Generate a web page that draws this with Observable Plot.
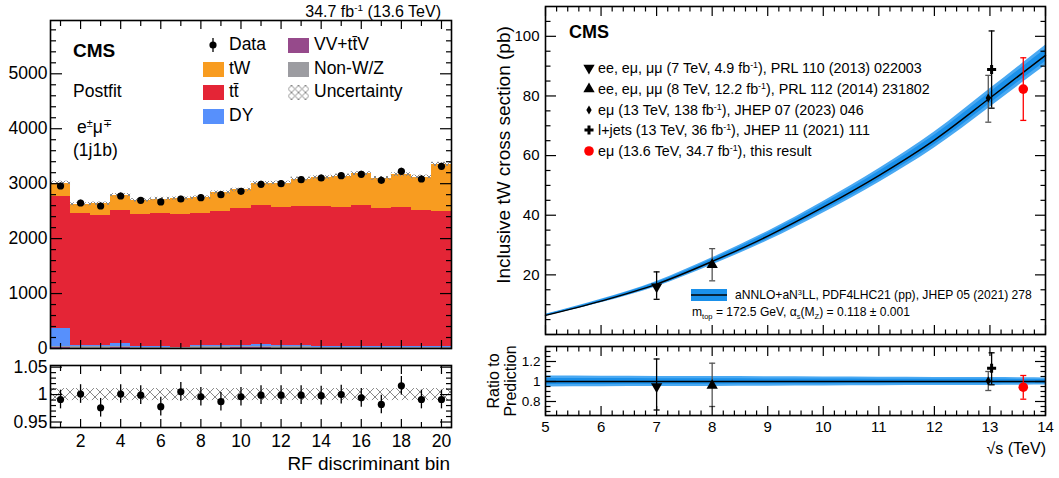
<!DOCTYPE html>
<html><head><meta charset="utf-8">
<script src="https://cdn.jsdelivr.net/npm/d3@7"></script>
<script src="https://cdn.jsdelivr.net/npm/@observablehq/plot@0.6"></script>
<style>
html,body{margin:0;padding:0;background:#fff;}
#root{position:relative;width:1059px;height:478px;overflow:hidden;background:#fff;font-family:"Liberation Sans",Arial,Helvetica,sans-serif;color:#000;}
.lbl{position:absolute;white-space:nowrap;line-height:1;}
.lbl sup{font-size:62%;vertical-align:0;position:relative;top:-0.6em;}
.lbl sub{font-size:62%;vertical-align:0;position:relative;top:0.35em;}
.holder{position:absolute;}
.holder svg{display:block;max-width:none;background:transparent;}
</style></head><body><div id="root"></div>
<script>
// ================= LEFT PANEL DATA (RF discriminant bins) =================
const bins      = [1,2,3,4,5,6,7,8,9,10,11,12,13,14,15,16,17,18,19,20];
const dataCount = [2958,2648,2594,2776,2697,2667,2721,2745,2800,2861,2988,3000,3073,3103,3145,3170,3061,3224,3085,3315];
const dataErr   = [54,51,51,53,52,52,52,52,53,53,55,55,55,56,56,56,55,57,56,58];
const tWYield   = [242,169,212,273,255,261,291,290,339,340,412,448,503,527,569,588,545,594,606,855];
const ttbarYield= [2406,2395,2364,2424,2407,2425,2412,2407,2442,2485,2521,2516,2527,2540,2540,2552,2516,2534,2485,2467];
const dyYield   = [329,29,29,56,9,9,5,19,24,28,38,19,24,16,7,16,12,12,9,9];
const nonWZYield= [25,22,22,25,18,18,12,20,22,22,25,20,22,18,15,18,16,16,14,14];
const vvYield   = [10,9,9,10,8,8,7,9,9,10,10,9,9,8,8,8,8,8,7,7];
const relUnc    = [0.011,0.011,0.011,0.011,0.011,0.011,0.011,0.011,0.011,0.011,0.011,0.011,0.011,0.011,0.011,0.011,0.011,0.011,0.011,0.011];
const ratioVal  = [0.991,1.001,0.976,1.001,0.999,0.978,1.005,0.996,0.987,0.996,0.999,0.999,0.999,0.998,1.000,0.994,0.982,1.016,0.991,0.991];
const ratioErr  = [0.017,0.017,0.017,0.017,0.017,0.017,0.017,0.017,0.017,0.017,0.017,0.017,0.017,0.017,0.017,0.017,0.017,0.017,0.017,0.017];
const procNames = ["VV+tt̄V","Non-W/Z","DY","tt̄","tW"];
const procColors= ["#964a8b","#9c9ca1","#5790fc","#e42536","#f89c20"];
const leftYTicks = [0,1000,2000,3000,4000,5000];
const leftRatioYTicks = [0.95,1,1.05];
const leftXTickLabels = [2,4,6,8,10,12,14,16,18,20];

// ================= RIGHT PANEL DATA (tW cross section vs sqrt(s)) =================
const thE    = [5,6,7,8,9,10,11,12,13,13.6,14];
const thXS   = [6.4,11.2,16.9,24.5,33.0,42.7,53.3,65.2,79.3,87.9,93.6];
const thUnc  = [0.055,0.053,0.051,0.049,0.047,0.045,0.043,0.041,0.039,0.037,0.036];
const mE     = [7,8,12.97,13.03,13.6];
const mXS    = [16.0,23.4,79.3,88.9,82.3];
const mLo    = [11.8,18.0,71.2,75.9,71.8];
const mHi    = [21.0,28.8,86.9,101.8,92.8];
const mRatio = [0.95,0.96,1.007,1.133,0.943];
const mRLo   = [0.715,0.75,0.91,0.967,0.823];
const mRHi   = [1.225,1.183,1.10,1.287,1.06];
const mSymbol= ["triangleDown","triangle","diamond","cross","circle"];
const mColor = ["#000","#000","#000","#000","#ff0000"];
const mErrColor = ["#000","#555","#555","#000","#ff0000"];
const rightYTicks = [20,40,60,80,100];
const rightRatioYTicks = [0.8,1,1.2];
const rightXTicks = [5,6,7,8,9,10,11,12,13,14];

// ================= helpers =================
const FONT = '"Liberation Sans", Arial, Helvetica, sans-serif';
const root = document.getElementById("root");
function mount(svg, left, top) {
  const d = document.createElement("div");
  d.className = "holder"; d.style.left = left + "px"; d.style.top = top + "px";
  d.appendChild(svg); root.appendChild(d);
}
function label(html, x, y, {size = 16, anchor = "start", weight = "normal", rotate = 0, color = "#000"} = {}) {
  const d = document.createElement("div");
  d.className = "lbl"; d.innerHTML = html;
  d.style.left = x + "px"; d.style.top = y + "px";
  d.style.fontSize = size + "px"; d.style.fontWeight = weight; d.style.color = color;
  const tx = anchor === "start" ? "0" : anchor === "end" ? "-100%" : "-50%";
  d.style.transform = `translate(${tx},-50%)` + (rotate ? ` rotate(${rotate}deg)` : "");
  root.appendChild(d);
  return d;
}
function mini(x, y, w, h, inner) {
  const d = document.createElement("div"); d.className = "holder";
  d.style.left = (x - w / 2) + "px"; d.style.top = (y - h / 2) + "px";
  d.innerHTML = `<svg width="${w}" height="${h}" viewBox="${-w/2} ${-h/2} ${w} ${h}" overflow="visible">${inner}</svg>`;
  root.appendChild(d);
}
function addHatch(svg, id, size, color) {
  const defs = d3.select(svg).insert("defs", ":first-child");
  const p = defs.append("pattern").attr("id", id).attr("patternUnits", "userSpaceOnUse")
    .attr("width", size).attr("height", size);
  p.append("path").attr("d", `M0,0L${size},${size}M${size},0L0,${size}`)
    .attr("stroke", color).attr("stroke-width", 1).attr("fill", "none");
}
function ticksX(values, len) {
  return ["top", "bottom"].map(a => Plot.axisX(values, {anchor: a, tickSize: -len, tickFormat: () => "", label: null, strokeWidth: 1.2}));
}
function ticksY(values, len) {
  return ["left", "right"].map(a => Plot.axisY(values, {anchor: a, tickSize: -len, tickFormat: () => "", label: null, strokeWidth: 1.2}));
}
const capSymbol = {draw(ctx, size) { const w = Math.sqrt(size); ctx.moveTo(-w, 0); ctx.lineTo(w, 0); }};
const symMap = {triangleDown: "triangle", triangle: "triangle", diamond: "diamond", cross: "cross", circle: "circle"};
const symR = {triangleDown: 4.2, triangle: 4.2, diamond: 2.8, cross: 3.8, circle: 4.8};

// ================= LEFT MAIN =================
const comps = [vvYield, nonWZYield, dyYield, ttbarYield, tWYield];
const stackRows = [];
const totals = [];
bins.forEach((b, i) => {
  let base = 0;
  comps.forEach((arr, k) => { stackRows.push({bin: b, color: procColors[k], y1: base, y2: base + arr[i]}); base += arr[i]; });
  totals.push(base);
});
const binRows = bins.map((b, i) => ({bin: b, total: totals[i], u: relUnc[i], data: dataCount[i], err: dataErr[i], r: ratioVal[i], re: ratioErr[i]}));
const even = bins.filter(b => b % 2 === 0), odd = bins.filter(b => b % 2 === 1);

const leftMain = Plot.plot({
  width: 460, height: 362, marginLeft: 50, marginRight: 9, marginTop: 20, marginBottom: 14,
  x: {domain: [0.5, 20.5]}, y: {domain: [0, 5970]},
  color: {type: "identity"},
  style: {fontFamily: FONT, fontSize: "17.5px", color: "#000", background: "transparent"},
  marks: [
    Plot.rect(stackRows, {x1: d => d.bin - 0.5, x2: d => d.bin + 0.5, y1: "y1", y2: "y2", fill: "color", shapeRendering: "crispEdges"}),
    Plot.rect(binRows, {x1: d => d.bin - 0.5, x2: d => d.bin + 0.5, y1: d => d.total * (1 - d.u), y2: d => d.total * (1 + d.u), fill: "url(#hatchMain)"}),
    Plot.ruleX(binRows, {x: "bin", y1: d => d.data - d.err, y2: d => d.data + d.err, stroke: "#000", strokeWidth: 1.3}),
    Plot.dot(binRows, {x: "bin", y: "data", r: 3.6, fill: "#000"}),
    ...ticksX(even, 8), ...ticksX(odd, 5),
    ...ticksY(leftYTicks, 12), ...ticksY(d3.range(0, 5970, 200).filter(v => v % 1000 !== 0), 6),
    Plot.axisY(leftYTicks, {anchor: "left", tickSize: 0, tickPadding: 3, label: null, tickFormat: d => String(d)}),
    Plot.frame({stroke: "#000", strokeWidth: 1.6})
  ]
});
addHatch(leftMain, "hatchMain", 6, "#888");
mount(leftMain, 0, 0);

// ================= LEFT RATIO =================
const leftRatio = Plot.plot({
  width: 460, height: 126, marginLeft: 50, marginRight: 9, marginTop: 13, marginBottom: 51,
  x: {domain: [0.5, 20.5]}, y: {domain: [0.94, 1.053]},
  style: {fontFamily: FONT, fontSize: "17.5px", color: "#000", background: "transparent"},
  marks: [
    Plot.rect(binRows, {x1: d => d.bin - 0.5, x2: d => d.bin + 0.5, y1: d => 1 - d.u, y2: d => 1 + d.u, fill: "url(#hatchRatio)"}),
    Plot.ruleX(binRows, {x: "bin", y1: d => d.r - d.re, y2: d => d.r + d.re, stroke: "#000", strokeWidth: 1.3}),
    Plot.dot(binRows, {x: "bin", y: "r", r: 3.6, fill: "#000"}),
    ...ticksX(even, 8), ...ticksX(odd, 5),
    ...ticksY(leftRatioYTicks, 12), ...ticksY(d3.range(0.94, 1.0531, 0.01).filter(v => Math.abs(v * 100 % 5) > 0.01 && Math.abs(v * 100 % 5 - 5) > 0.01), 6),
    Plot.axisY(leftRatioYTicks, {anchor: "left", tickSize: 0, tickPadding: 3, label: null, tickFormat: d => String(d)}),
    Plot.axisX(leftXTickLabels, {anchor: "bottom", tickSize: 0, tickPadding: 7, label: null, tickFormat: d => String(d)}),
    Plot.frame({stroke: "#000", strokeWidth: 1.6})
  ]
});
addHatch(leftRatio, "hatchRatio", 10, "#888");
mount(leftRatio, 0, 352);

// left texts
label("34.7 fb<sup>-1</sup> (13.6 TeV)", 441, 12, {size: 16, anchor: "end"});
label("CMS", 73, 50, {size: 19, weight: "bold"});
label("Postfit", 73, 92, {size: 17.5});
label("e<sup>±</sup>μ<sup>∓</sup>", 77, 128, {size: 17.5});
label("(1j1b)", 73, 151, {size: 17.5});
label("RF discriminant bin", 450, 463, {size: 19, anchor: "end"});
// left legend
mini(213, 45, 14, 16, `<line x1="0" x2="0" y1="-7" y2="7" stroke="#000" stroke-width="1.3"/><circle r="3.6" fill="#000"/>`);
label("Data", 229, 45, {size: 17.5});
const legL = [["tW", procColors[4], 213, 69], ["tt̄", procColors[3], 213, 92], ["DY", procColors[2], 213, 116],
              ["VV+tt̄V", procColors[0], 298, 45], ["Non-W/Z", procColors[1], 298, 69]];
legL.forEach(([t, c, x, y]) => {
  mini(x, y, 21, 15, `<rect x="-10.5" y="-7.5" width="21" height="15" fill="${c}"/>`);
  label(t, x + 16, y, {size: 17.5});
});
mini(298, 92, 21, 15, `<defs><pattern id="hatchLeg" patternUnits="userSpaceOnUse" width="7" height="7"><path d="M0,0L7,7M7,0L0,7" stroke="#888" stroke-width="1"/></pattern></defs><rect x="-10.5" y="-7.5" width="21" height="15" fill="url(#hatchLeg)"/>`);
label("Uncertainty", 314, 92, {size: 17.5});

// ================= RIGHT MAIN =================
const thRows = thE.map((e, i) => ({E: e, xs: thXS[i], u: thUnc[i]}));
const mRows = mE.map((e, i) => ({E: e, xs: mXS[i], lo: mLo[i], hi: mHi[i], r: mRatio[i], rlo: mRLo[i], rhi: mRHi[i],
  sym: mSymbol[i], col: mColor[i], ecol: mErrColor[i]}));
const minorX = d3.range(5, 14.001, 0.2).filter(v => Math.abs(v - Math.round(v)) > 0.01);
function measMarks(yKey, loKey, hiKey) {
  const out = [
    Plot.ruleX(mRows, {x: "E", y1: loKey, y2: hiKey, stroke: "ecol", strokeWidth: 1.3}),
    Plot.dot(mRows, {x: "E", y: loKey, symbol: capSymbol, r: 1.7, stroke: "ecol", fill: "none", strokeWidth: 1.3}),
    Plot.dot(mRows, {x: "E", y: hiKey, symbol: capSymbol, r: 1.7, stroke: "ecol", fill: "none", strokeWidth: 1.3})
  ];
  mSymbol.forEach(s => {
    out.push(Plot.dot(mRows.filter(d => d.sym === s), {x: "E", y: yKey, symbol: symMap[s], r: symR[s], fill: "col", stroke: "none", rotate: s === "triangleDown" ? 180 : 0}));
  });
  return out;
}
const rightMain = Plot.plot({
  width: 579, height: 340, marginLeft: 65, marginRight: 14, marginTop: 6, marginBottom: 6,
  x: {domain: [5, 14]}, y: {domain: [0, 110]},
  color: {type: "identity"}, symbol: {type: "identity"},
  style: {fontFamily: FONT, fontSize: "15px", color: "#000", background: "transparent"},
  marks: [
    Plot.areaY(thRows, {x: "E", y1: d => d.xs * (1 - d.u), y2: d => d.xs * (1 + d.u), fill: "#4aa9f2", curve: "monotone-x"}),
    Plot.areaY(thRows, {x: "E", y1: d => d.xs * (1 - 0.6 * d.u), y2: d => d.xs * (1 + 0.6 * d.u), fill: "#1a90ea", curve: "monotone-x"}),
    Plot.line(thRows, {x: "E", y: "xs", stroke: "#000", strokeWidth: 1.4, curve: "monotone-x"}),
    ...measMarks("xs", "lo", "hi"),
    ...ticksX(rightXTicks, 9), ...ticksX(minorX, 4.5),
    ...ticksY([0, ...rightYTicks], 11), ...ticksY(d3.range(5, 110, 5).filter(v => v % 20 !== 0), 5.5),
    Plot.axisY(rightYTicks, {anchor: "left", tickSize: 0, tickPadding: 6, label: null, tickFormat: d => String(d)}),
    Plot.frame({stroke: "#000", strokeWidth: 1.6})
  ]
});
mount(rightMain, 480, 0);

// ================= RIGHT RATIO =================
const rightRatio = Plot.plot({
  width: 579, height: 138, marginLeft: 65, marginRight: 14, marginTop: 6, marginBottom: 63,
  x: {domain: [5, 14]}, y: {domain: [0.66, 1.35]},
  color: {type: "identity"}, symbol: {type: "identity"},
  style: {fontFamily: FONT, fontSize: "15px", color: "#000", background: "transparent"},
  marks: [
    Plot.areaY(thRows, {x: "E", y1: d => 1 - d.u, y2: d => 1 + d.u, fill: "#4aa9f2", curve: "monotone-x"}),
    Plot.areaY(thRows, {x: "E", y1: d => 1 - 0.55 * d.u, y2: d => 1 + 0.55 * d.u, fill: "#1a90ea", curve: "monotone-x"}),
    Plot.ruleY([1], {stroke: "#000", strokeWidth: 1.5}),
    ...measMarks("r", "rlo", "rhi"),
    ...ticksX(rightXTicks, 9), ...ticksX(minorX, 4.5),
    ...ticksY(rightRatioYTicks, 11), ...ticksY(d3.range(0.7, 1.351, 0.05).filter(v => Math.abs(v * 10 % 2) > 0.01 && Math.abs(v * 10 % 2 - 2) > 0.01), 5.5),
    Plot.axisY(rightRatioYTicks, {anchor: "left", tickSize: 0, tickPadding: 5, label: null, tickFormat: d => String(d), fontSize: 13.5}),
    Plot.axisX(rightXTicks, {anchor: "bottom", tickSize: 0, tickPadding: 6, label: null, tickFormat: d => String(d)}),
    Plot.frame({stroke: "#000", strokeWidth: 1.6})
  ]
});
mount(rightRatio, 480, 340);

// right texts
label("CMS", 569, 32, {size: 18, weight: "bold"});
label("Inclusive tW cross section (pb)", 503, 155, {size: 19, anchor: "middle", rotate: -90});
label("Ratio to", 494, 381, {size: 16, anchor: "middle", rotate: -90});
label("Prediction", 511, 381, {size: 16, anchor: "middle", rotate: -90});
label("√s (TeV)", 1046, 449, {size: 16, anchor: "end"});
const legR = [
  ["ee, eμ, μμ (7 TeV, 4.9 fb<sup>-1</sup>), PRL 110 (2013) 022003", 68],
  ["ee, eμ, μμ (8 TeV, 12.2 fb<sup>-1</sup>), PRL 112 (2014) 231802", 89],
  ["eμ (13 TeV, 138 fb<sup>-1</sup>), JHEP 07 (2023) 046", 110],
  ["l+jets (13 TeV, 36 fb<sup>-1</sup>), JHEP 11 (2021) 111", 130],
  ["eμ (13.6 TeV, 34.7 fb<sup>-1</sup>), this result", 151]
];
const legSym = [
  [d3.symbolTriangle, 4.2, 180, "#000"], [d3.symbolTriangle, 4.2, 0, "#000"], [d3.symbolDiamond, 2.8, 0, "#000"],
  [d3.symbolCross, 3.8, 0, "#000"], [d3.symbolCircle, 4.8, 0, "#ff0000"]
];
legR.forEach(([t, y], i) => {
  const [s, r, rot, c] = legSym[i];
  const path = d3.symbol(s, r * r * Math.PI)();
  mini(589, y, 14, 14, `<path d="${path}" fill="${c}" transform="rotate(${rot})"/>`);
  label(t, 598, y, {size: 14.3});
});
mini(709, 295, 36, 12, `<rect x="-18" y="-6" width="36" height="12" fill="#1a90ea"/><line x1="-18" x2="18" y1="0" y2="0" stroke="#000" stroke-width="1.5"/>`);
label("aNNLO+aN<sup>3</sup>LL, PDF4LHC21 (pp), JHEP 05 (2021) 278", 735, 295, {size: 12.1});
label("m<sub>top</sub> = 172.5 GeV, α<sub>s</sub>(M<sub>Z</sub>) = 0.118 ± 0.001", 692, 312, {size: 12.1});
</script></body></html>
